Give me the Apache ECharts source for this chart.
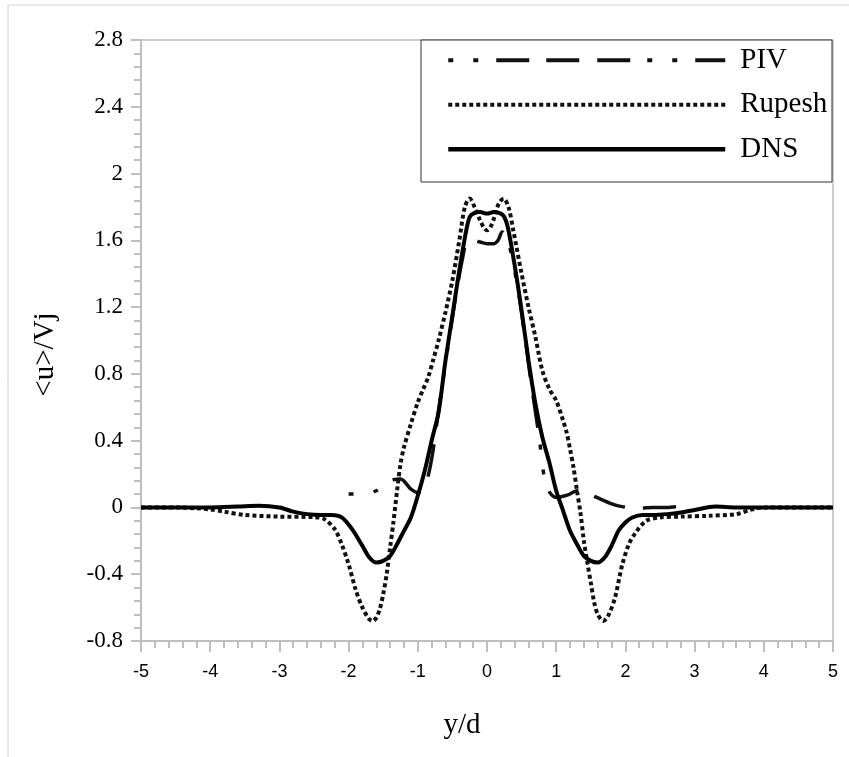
<!DOCTYPE html>
<html>
<head>
<meta charset="utf-8">
<script src="https://cdn.jsdelivr.net/npm/echarts@6/dist/echarts.min.js"></script>
<style>
html,body{margin:0;padding:0;background:#fff;}
#c{width:849px;height:757px;}
</style>
</head>
<body>
<div id="c"></div>
<script>
// ---- data ----
var xTicks = [-5,-4,-3,-2,-1,0,1,2,3,4,5];
var yTicks = [-0.8,-0.4,0,0.4,0.8,1.2,1.6,2,2.4,2.8];

var pivX = [-2.0,-1.8,-1.6,-1.4,-1.25,-1.1,-1.0,-0.92,-0.85,-0.78,-0.72,-0.65,-0.55,-0.45,-0.35,-0.28,-0.2,-0.1,0,0.1,0.16,0.22,0.28,0.35,0.45,0.55,0.62,0.69,0.76,0.82,0.89,1.0,1.17,1.3,1.39,1.56,1.78,1.95,2.2,2.4,2.6,2.8];
var pivY = [0.08,0.08,0.1,0.16,0.17,0.11,0.09,0.11,0.19,0.34,0.52,0.72,1.0,1.27,1.5,1.6,1.6,1.59,1.58,1.58,1.6,1.65,1.62,1.52,1.3,1.02,0.8,0.6,0.4,0.2,0.1,0.06,0.075,0.1,0.1,0.065,0.025,0.005,-0.005,0,0,0.008];

var rupX = [-5,-4.5,-4.2,-4,-3.8,-3.5,-3.0,-2.5,-2.35,-2.2,-2.1,-2.0,-1.9,-1.8,-1.7,-1.65,-1.6,-1.55,-1.5,-1.45,-1.4,-1.35,-1.3,-1.25,-1.2,-1.1,-1.0,-0.92,-0.85,-0.78,-0.7,-0.6,-0.5,-0.4,-0.32,-0.25,-0.18,-0.1,-0.05,0,0.05,0.1,0.17,0.24,0.31,0.38,0.5,0.6,0.7,0.8,0.9,1.0,1.1,1.15,1.2,1.25,1.3,1.35,1.4,1.45,1.5,1.55,1.6,1.68,1.75,1.85,1.95,2.05,2.15,2.3,2.5,2.8,3.2,3.6,3.8,4,4.5,5];
var rupY = [0,0,-0.005,-0.012,-0.025,-0.045,-0.055,-0.058,-0.07,-0.13,-0.22,-0.34,-0.49,-0.6,-0.67,-0.68,-0.66,-0.61,-0.52,-0.4,-0.24,-0.08,0.1,0.26,0.36,0.5,0.63,0.71,0.78,0.88,1.0,1.17,1.36,1.6,1.8,1.85,1.8,1.72,1.68,1.66,1.68,1.73,1.82,1.85,1.8,1.66,1.4,1.2,1.02,0.82,0.71,0.64,0.52,0.45,0.35,0.24,0.1,-0.03,-0.2,-0.33,-0.45,-0.57,-0.64,-0.68,-0.65,-0.54,-0.35,-0.22,-0.15,-0.08,-0.06,-0.055,-0.05,-0.04,-0.015,0,0,0];

var dnsX = [-5,-4.5,-4,-3.6,-3.3,-3.0,-2.8,-2.6,-2.4,-2.25,-2.1,-1.95,-1.8,-1.7,-1.6,-1.5,-1.4,-1.3,-1.2,-1.1,-1.0,-0.9,-0.8,-0.7,-0.6,-0.5,-0.4,-0.3,-0.25,-0.2,-0.1,0,0.1,0.2,0.25,0.3,0.4,0.5,0.6,0.7,0.8,0.9,1.0,1.1,1.2,1.3,1.4,1.5,1.6,1.7,1.8,1.9,2.0,2.1,2.25,2.4,2.6,2.8,3.0,3.3,3.6,4,4.5,5];
var dnsY = [0,0,0,0.005,0.01,0.0,-0.025,-0.04,-0.045,-0.045,-0.06,-0.13,-0.23,-0.3,-0.33,-0.32,-0.29,-0.22,-0.14,-0.06,0.07,0.22,0.4,0.57,0.88,1.15,1.42,1.66,1.74,1.76,1.77,1.76,1.77,1.76,1.74,1.68,1.45,1.18,0.88,0.62,0.42,0.27,0.1,-0.02,-0.14,-0.22,-0.29,-0.32,-0.33,-0.3,-0.23,-0.14,-0.09,-0.06,-0.045,-0.045,-0.04,-0.03,-0.015,0.005,0,0,0,0];

function pairs(xs, ys){ var o=[]; for(var i=0;i<xs.length;i++){o.push([xs[i],ys[i]]);} return o; }

var serif = '"Liberation Serif","Times New Roman",serif';
var sans = '"Liberation Sans",Arial,sans-serif';
var axisGray = '#bfbfbf';
var pivDash = [5,20,5,18,33,17,33,18,33,17];
var rupDash = [4,3];

var chart = echarts.init(document.getElementById('c'), null, {renderer:'canvas'});
chart.setOption({
  animation:false,
  backgroundColor:'#fff',
  graphic:[
    {type:'rect', z:-10, silent:true, shape:{x:8,y:5,width:900,height:800}, style:{fill:'#fff', stroke:'#d4d4d4', lineWidth:1}},
    {type:'rect', z:3, silent:true, shape:{x:421,y:40,width:411,height:142}, style:{fill:'#fff', stroke:'#333', lineWidth:1}}
  ],
  grid:{left:141, top:40, right:16, bottom:116, show:true, borderColor:axisGray, borderWidth:1.5, backgroundColor:'transparent'},
  legend:{
    orient:'vertical', left:446, top:45.7, padding:0, z:10,
    itemWidth:277, itemHeight:30, itemGap:15.5,
    itemStyle:{color:'rgba(0,0,0,0)', borderWidth:0, opacity:0},
    textStyle:{fontFamily:serif, fontSize:29, color:'#000', padding:[0,0,0,10]},
    data:[
      {name:'PIV', lineStyle:{color:'#111', width:4, type:pivDash, cap:'butt', opacity:1}},
      {name:'Rupesh', lineStyle:{color:'#111', width:4, type:rupDash, cap:'butt', opacity:1}},
      {name:'DNS', lineStyle:{color:'#000', width:4.5, type:'solid', opacity:1}}
    ]
  },
  xAxis:{
    type:'value', min:-5, max:5, interval:1,
    name:'y/d', nameLocation:'middle', nameGap:70,
    nameTextStyle:{fontFamily:serif, fontSize:29, color:'#000', padding:[0,50,0,0]},
    axisLine:{show:true, onZero:false, lineStyle:{color:axisGray, width:2}},
    axisTick:{show:true, inside:false, length:11, lineStyle:{color:axisGray, width:2}},
    minorTick:{show:true, splitNumber:5, length:7, lineStyle:{color:axisGray, width:2}},
    splitLine:{show:false},
    axisLabel:{fontFamily:sans, fontSize:18, color:'#000', margin:22,
      formatter:function(v){ var i=xTicks.indexOf(Math.round(v)); return i>=0? String(xTicks[i]) : ''; }}
  },
  yAxis:{
    type:'value', min:-0.8, max:2.8, interval:0.4,
    name:'<u>/Vj', nameLocation:'middle', nameGap:81, nameRotate:90,
    nameTextStyle:{fontFamily:serif, fontSize:29, color:'#000', padding:[0,28,0,0]},
    axisLine:{show:true, onZero:false, lineStyle:{color:axisGray, width:2}},
    axisTick:{show:true, inside:false, length:10, lineStyle:{color:axisGray, width:2}},
    minorTick:{show:true, splitNumber:5, length:7, lineStyle:{color:axisGray, width:2}},
    splitLine:{show:false},
    axisLabel:{fontFamily:serif, fontSize:23, color:'#000', margin:18,
      formatter:function(v){ var best=yTicks[0]; for(var i=0;i<yTicks.length;i++){ if(Math.abs(yTicks[i]-v)<Math.abs(best-v)) best=yTicks[i]; } return String(best); }}
  },
  series:[
    {name:'PIV', type:'line', data:pairs(pivX,pivY), symbol:'none', smooth:0.3, z:3,
      lineStyle:{color:'#111', width:3.5, type:pivDash, cap:'butt'}, itemStyle:{color:'#111'}},
    {name:'Rupesh', type:'line', data:pairs(rupX,rupY), symbol:'none', smooth:0.3, z:4,
      lineStyle:{color:'#111', width:4, type:rupDash, cap:'butt'}, itemStyle:{color:'#111'}},
    {name:'DNS', type:'line', data:pairs(dnsX,dnsY), symbol:'none', smooth:0.3, z:5,
      lineStyle:{color:'#000', width:4}, itemStyle:{color:'#000'}}
  ]
});
</script>
</body>
</html>
